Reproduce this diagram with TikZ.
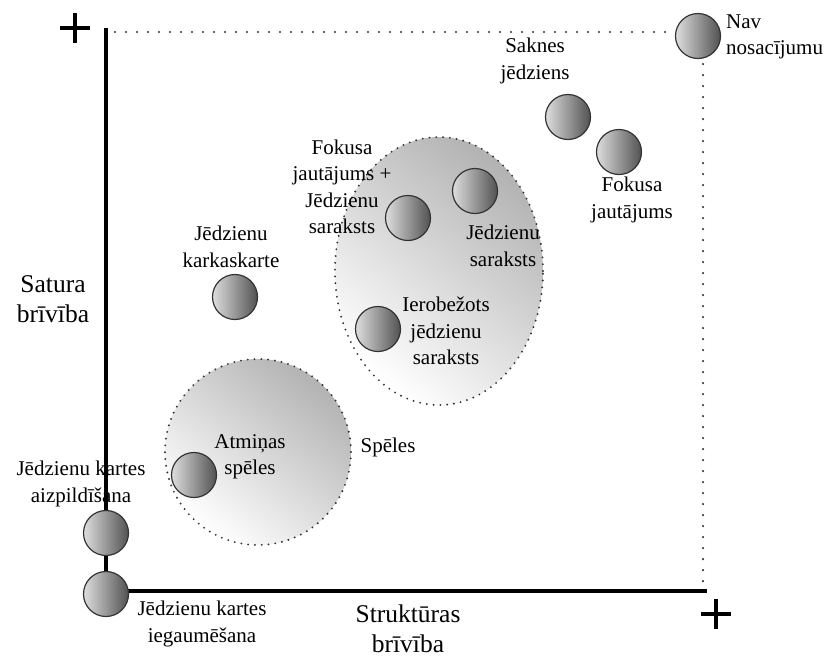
\documentclass[tikz,border=0pt]{standalone}
\usepackage{fontspec}
\setmainfont{Liberation Serif}
\usetikzlibrary{shapes.geometric}
\begin{document}
\begin{tikzpicture}[x=1pt,y=-1pt,
  ball/.style={circle, minimum size=45pt, inner sep=0pt, draw=black!80, line width=1.2pt,
               left color=black!13, right color=black!68},
  lbl/.style={align=center, font=\fontsize{21}{26.5}\selectfont, inner sep=0pt},
  axislbl/.style={align=center, font=\fontsize{25.5}{30}\selectfont, inner sep=0pt},
  axisline/.style={line width=3.6pt, line cap=rect},
  frame/.style={draw=black!80, line width=2.3pt, dash pattern=on 0pt off 11pt, line cap=round},
  zone/.style={draw=black!80, line width=2.1pt, dash pattern=on 0pt off 6.8pt, line cap=round,
               top color=black!30, bottom color=white, shading angle=-40},
  plusmark/.style={line width=4pt}
]
\useasboundingbox (0,0) rectangle (832,659);

% shaded zones
\node[ellipse, zone, inner sep=0pt, minimum width=208pt, minimum height=268pt] (listzone) at (439,271) {};
\node[circle, zone, inner sep=0pt, minimum size=186pt] (gamezone) at (258,452) {};

% axes
\coordinate (origin) at (106,591);
\coordinate (ytop) at (106,30);
\coordinate (xend) at (705,591);
\draw[axisline] (ytop) -- (origin) -- (xend);

% plus marks
\draw[plusmark] (60,28) -- (90,28) (75,13) -- (75,43);
\draw[plusmark] (701,614) -- (731,614) (716,599) -- (716,629);

% activity balls
\node[ball] (nav)   at (698,36) {};
\node[ball] (sakn)  at (568,117) {};
\node[ball] (fokj)  at (619,152) {};
\node[ball] (jsar)  at (475,191) {};
\node[ball] (fokjs) at (408,218) {};
\node[ball] (kark)  at (235,297) {};
\node[ball] (ierob) at (378,329) {};
\node[ball] (atm)   at (194,475) {};
\node[ball] (aizp)  at (106,533) {};
\node[ball] (iegau) at (106,594) {};

% dotted frame
\coordinate (ftl) at (115,32);
\coordinate (fbr) at (703,586);
\draw[frame] (ftl) -- (ftl -| nav.west);
\draw[frame] ([yshift=-5pt]fbr |- nav.south) -- (fbr);

% labels
\node[lbl, align=left, anchor=west] (navl) at (726,37) {Nav\\nosacījumu};
\node[lbl] (saknl)  at (535,61)  {Saknes\\jēdziens};
\node[lbl] (fokjl)  at (632,200) {Fokusa\\jautājums};
\node[lbl] (fokjsl) at (342,187) {Fokusa\\jautājums +\\Jēdzienu\\saraksts};
\node[lbl] (jsarl)  at (503,246) {Jēdzienu\\saraksts};
\node[lbl] (ierobl) at (446,331) {Ierobežots\\jēdzienu\\saraksts};
\node[lbl] (karkl)  at (231,247) {Jēdzienu\\karkaskarte};
\node[lbl] (atml)   at (250,457) {Atmiņas\\spēles};
\node[lbl] (gamel)  at (388,447) {Spēles};
\node[lbl] (aizpl)  at (81,484)  {Jēdzienu kartes\\aizpildīšana};
\node[lbl] (iegaul) at (202,624) {Jēdzienu kartes\\iegaumēšana};
\node[axislbl] (ylbl) at (53,299)  {Satura\\brīvība};
\node[axislbl] (xlbl) at (408,629) {Struktūras\\brīvība};
\end{tikzpicture}
\end{document}
